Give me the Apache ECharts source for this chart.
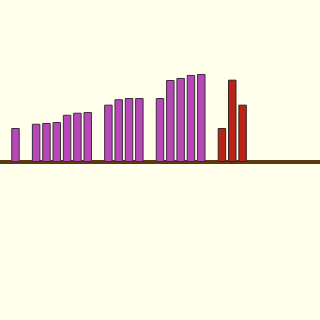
<!DOCTYPE html>
<html>
<head>
<meta charset="utf-8">
<script src="https://cdn.jsdelivr.net/npm/echarts@6/dist/echarts.min.js"></script>
<style>html,body{margin:0;padding:0;background:#ffffec;}#c{width:320px;height:320px;}</style>
</head>
<body>
<div id="c"></div>
<script>
var categories = [];
for (var i = 0; i < 31; i++) categories.push(String(i + 1));

var purpleValues = ['-', 21.5, '-', 24.2, 24.7, 25.3, 29.9, 31.2, 31.6, '-', 36.3, 39.7, 40.5, 40.5, '-', 40.5, 51.9, 53.2, 55.1, 55.7,
  '-', '-', '-', '-', '-', '-', '-', '-', '-', '-', '-'];
var redValues = ['-', '-', '-', '-', '-', '-', '-', '-', '-', '-', '-', '-', '-', '-', '-', '-', '-', '-', '-', '-',
  '-', 21.5, 52.1, 36.3, '-', '-', '-', '-', '-', '-', '-'];

var chart = echarts.init(document.getElementById('c'), null, {renderer: 'canvas'});
chart.setOption({
  backgroundColor: '#ffffec',
  animation: false,
  grid: {left: 0, right: 0, top: 4, bottom: 0, containLabel: false},
  xAxis: {
    type: 'category',
    data: categories,
    axisLine: {show: true, lineStyle: {color: '#5a3a10', width: 4}},
    axisTick: {show: false},
    axisLabel: {show: false},
    splitLine: {show: false}
  },
  yAxis: {
    type: 'value',
    min: -100,
    max: 100,
    show: false,
    splitLine: {show: false}
  },
  series: [
    {
      type: 'bar',
      data: purpleValues,
      barWidth: '82%',
      barGap: '-100%',
      itemStyle: {color: '#b848b8', borderColor: '#3c2c3c', borderWidth: 1}
    },
    {
      type: 'bar',
      data: redValues,
      barWidth: '82%',
      barGap: '-100%',
      itemStyle: {color: '#b82418', borderColor: '#3c2020', borderWidth: 1}
    }
  ]
});
</script>
</body>
</html>
